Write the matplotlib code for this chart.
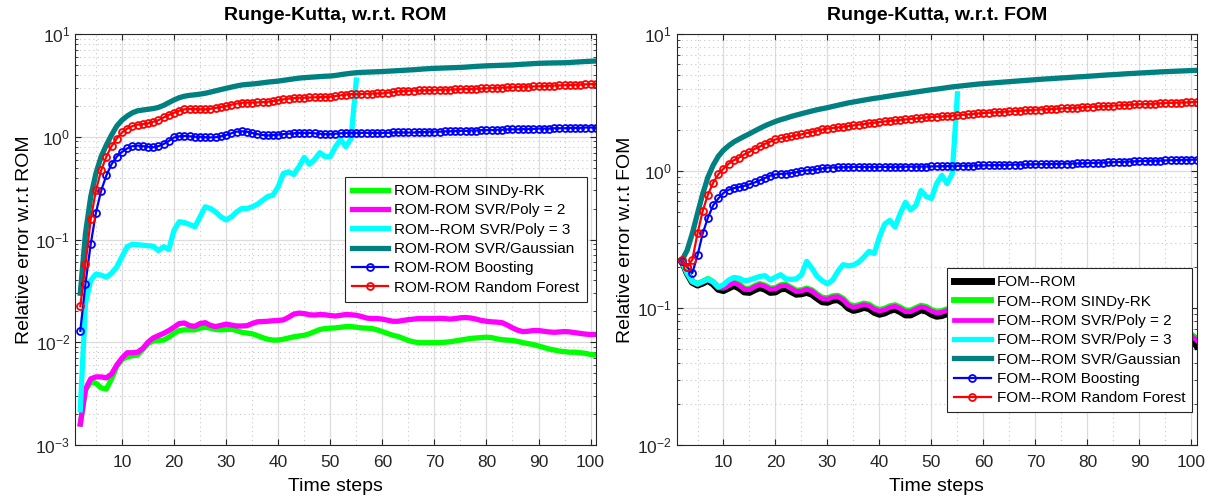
import numpy as np
import matplotlib
matplotlib.use('Agg')
import matplotlib.pyplot as plt
from matplotlib.ticker import LogLocator, NullFormatter, MultipleLocator

plt.rcParams['font.family'] = ['Liberation Sans', 'DejaVu Sans']
plt.rcParams['mathtext.fontset'] = 'custom'
plt.rcParams['mathtext.rm'] = 'Liberation Sans'
plt.rcParams['mathtext.it'] = 'Liberation Sans:italic'

steps = list(range(2, 102))
steps_poly3 = list(range(2, 56))

# ---- left panel: error w.r.t. ROM ----
rom_sindy = [0.0016, 0.0034, 0.0041, 0.0040, 0.0036, 0.0035, 0.0044, 0.0058, 0.0068, 0.0072,
             0.0074, 0.0075, 0.0085, 0.0097, 0.0103, 0.0104, 0.0105, 0.0112, 0.0122, 0.0130,
             0.0132, 0.0132, 0.0132, 0.0137, 0.0140, 0.0137, 0.0133, 0.0132, 0.0133, 0.0134,
             0.0130, 0.0125, 0.0123, 0.0121, 0.0116, 0.0111, 0.0107, 0.0105, 0.0105, 0.0107,
             0.0110, 0.0113, 0.0115, 0.0117, 0.0121, 0.0127, 0.0133, 0.0136, 0.0137, 0.0138,
             0.0140, 0.0142, 0.0142, 0.0140, 0.0138, 0.0137, 0.0136, 0.0132, 0.0127, 0.0122,
             0.0117, 0.0114, 0.0109, 0.0104, 0.0101, 0.0099, 0.0099, 0.0099, 0.0099, 0.0099,
             0.0100, 0.0101, 0.0103, 0.0105, 0.0107, 0.0109, 0.0110, 0.0111, 0.0112, 0.0111,
             0.0108, 0.0106, 0.0105, 0.0104, 0.0102, 0.0099, 0.0097, 0.0095, 0.0092, 0.0089,
             0.0086, 0.0084, 0.0082, 0.0081, 0.0080, 0.0080, 0.0079, 0.0078, 0.0076, 0.0075]
rom_poly2 = [0.0016, 0.0035, 0.0044, 0.0046, 0.0046, 0.0045, 0.0049, 0.0060, 0.0070, 0.0079,
             0.0079, 0.0080, 0.0087, 0.0100, 0.0110, 0.0116, 0.0122, 0.0130, 0.0140, 0.0152,
             0.0154, 0.0145, 0.0143, 0.0152, 0.0155, 0.0146, 0.0142, 0.0146, 0.0150, 0.0147,
             0.0144, 0.0144, 0.0145, 0.0152, 0.0158, 0.0159, 0.0160, 0.0162, 0.0163, 0.0165,
             0.0175, 0.0188, 0.0192, 0.0190, 0.0185, 0.0184, 0.0186, 0.0185, 0.0182, 0.0180,
             0.0183, 0.0186, 0.0185, 0.0183, 0.0178, 0.0172, 0.0170, 0.0170, 0.0168, 0.0164,
             0.0160, 0.0160, 0.0163, 0.0166, 0.0168, 0.0170, 0.0170, 0.0170, 0.0170, 0.0171,
             0.0170, 0.0168, 0.0170, 0.0173, 0.0174, 0.0172, 0.0168, 0.0163, 0.0160, 0.0158,
             0.0157, 0.0155, 0.0147, 0.0138, 0.0131, 0.0127, 0.0128, 0.0130, 0.0130, 0.0128,
             0.0126, 0.0125, 0.0126, 0.0127, 0.0126, 0.0124, 0.0122, 0.0120, 0.0119, 0.0119]
rom_poly3 = [0.0022, 0.024, 0.040, 0.046, 0.045, 0.043, 0.047, 0.054, 0.068, 0.085,
             0.090, 0.089, 0.088, 0.087, 0.086, 0.078, 0.085, 0.080, 0.123, 0.149,
             0.146, 0.140, 0.133, 0.166, 0.208, 0.200, 0.185, 0.166, 0.155, 0.166,
             0.185, 0.200, 0.200, 0.208, 0.220, 0.240, 0.262, 0.270, 0.326, 0.440,
             0.455, 0.430, 0.510, 0.630, 0.540, 0.600, 0.700, 0.640, 0.640, 0.800,
             0.940, 0.800, 0.960, 3.56]
rom_gauss = [0.03, 0.115, 0.26, 0.44, 0.64, 0.83, 1.04, 1.27, 1.45, 1.59,
             1.71, 1.79, 1.82, 1.85, 1.88, 1.93, 2.02, 2.15, 2.28, 2.40,
             2.48, 2.53, 2.56, 2.60, 2.65, 2.72, 2.80, 2.88, 2.96, 3.04,
             3.12, 3.19, 3.23, 3.26, 3.30, 3.35, 3.40, 3.44, 3.48, 3.54,
             3.60, 3.66, 3.72, 3.76, 3.79, 3.82, 3.85, 3.88, 3.90, 3.95,
             4.02, 4.09, 4.15, 4.20, 4.23, 4.25, 4.27, 4.29, 4.31, 4.34,
             4.37, 4.40, 4.43, 4.46, 4.49, 4.53, 4.57, 4.60, 4.63, 4.65,
             4.67, 4.69, 4.71, 4.73, 4.76, 4.80, 4.84, 4.87, 4.90, 4.92,
             4.94, 4.96, 4.98, 5.00, 5.04, 5.08, 5.11, 5.15, 5.18, 5.20,
             5.22, 5.23, 5.24, 5.25, 5.28, 5.32, 5.36, 5.40, 5.43, 5.46]
rom_boost = [0.0129, 0.0373, 0.090, 0.182, 0.298, 0.42, 0.54, 0.64, 0.71, 0.77,
             0.81, 0.82, 0.81, 0.80, 0.79, 0.81, 0.85, 0.91, 0.985, 1.01,
             1.02, 1.01, 1.00, 1.00, 0.99, 0.985, 0.99, 1.01, 1.04, 1.08,
             1.12, 1.13, 1.12, 1.09, 1.06, 1.04, 1.03, 1.04, 1.05, 1.06,
             1.07, 1.08, 1.09, 1.09, 1.09, 1.08, 1.07, 1.06, 1.06, 1.07,
             1.08, 1.09, 1.09, 1.09, 1.09, 1.09, 1.09, 1.09, 1.09, 1.09,
             1.10, 1.10, 1.10, 1.10, 1.10, 1.11, 1.11, 1.12, 1.12, 1.12,
             1.13, 1.13, 1.14, 1.14, 1.14, 1.15, 1.15, 1.16, 1.16, 1.16,
             1.17, 1.17, 1.18, 1.18, 1.18, 1.19, 1.19, 1.19, 1.20, 1.20,
             1.20, 1.21, 1.21, 1.21, 1.22, 1.22, 1.22, 1.23, 1.23, 1.23]
rom_forest = [0.0224, 0.0575, 0.157, 0.30, 0.47, 0.64, 0.81, 0.96, 1.10, 1.20,
              1.27, 1.31, 1.33, 1.35, 1.40, 1.45, 1.54, 1.63, 1.71, 1.79,
              1.85, 1.86, 1.86, 1.85, 1.85, 1.87, 1.91, 1.95, 1.99, 2.05,
              2.10, 2.14, 2.15, 2.15, 2.16, 2.17, 2.19, 2.23, 2.27, 2.31,
              2.35, 2.38, 2.40, 2.40, 2.41, 2.42, 2.43, 2.44, 2.45, 2.49,
              2.53, 2.57, 2.60, 2.60, 2.61, 2.62, 2.63, 2.64, 2.64, 2.68,
              2.72, 2.76, 2.79, 2.80, 2.81, 2.82, 2.83, 2.84, 2.85, 2.86,
              2.87, 2.88, 2.89, 2.90, 2.91, 2.92, 2.94, 2.95, 2.96, 2.98,
              3.00, 3.01, 3.02, 3.03, 3.05, 3.07, 3.08, 3.09, 3.10, 3.12,
              3.14, 3.15, 3.16, 3.17, 3.19, 3.21, 3.22, 3.24, 3.25, 3.26]

# ---- right panel: error w.r.t. FOM ----
fom_rom = [0.222, 0.180, 0.154, 0.147, 0.152, 0.159, 0.150, 0.137, 0.134, 0.140,
           0.146, 0.140, 0.131, 0.130, 0.136, 0.141, 0.137, 0.130, 0.131, 0.138,
           0.139, 0.132, 0.126, 0.127, 0.130, 0.126, 0.118, 0.111, 0.110, 0.114,
           0.115, 0.109, 0.100, 0.096, 0.098, 0.101, 0.099, 0.093, 0.090, 0.092,
           0.096, 0.098, 0.094, 0.089, 0.089, 0.093, 0.097, 0.095, 0.090, 0.087,
           0.088, 0.091, 0.093, 0.090, 0.086, 0.084, 0.086, 0.088, 0.086, 0.082,
           0.080, 0.081, 0.083, 0.082, 0.078, 0.076, 0.077, 0.079, 0.078, 0.074,
           0.072, 0.073, 0.075, 0.074, 0.070, 0.069, 0.070, 0.072, 0.071, 0.068,
           0.066, 0.067, 0.069, 0.068, 0.065, 0.063, 0.064, 0.066, 0.065, 0.062,
           0.061, 0.062, 0.064, 0.063, 0.060, 0.059, 0.060, 0.062, 0.060, 0.053]
fom_sindy = [0.222, 0.180, 0.156, 0.150, 0.156, 0.163, 0.155, 0.142, 0.141, 0.148,
             0.155, 0.149, 0.139, 0.138, 0.145, 0.150, 0.146, 0.139, 0.140, 0.147,
             0.148, 0.141, 0.134, 0.135, 0.139, 0.135, 0.126, 0.119, 0.118, 0.122,
             0.123, 0.117, 0.107, 0.103, 0.105, 0.108, 0.106, 0.100, 0.097, 0.099,
             0.103, 0.105, 0.101, 0.096, 0.096, 0.100, 0.104, 0.102, 0.097, 0.094,
             0.095, 0.098, 0.100, 0.097, 0.093, 0.091, 0.093, 0.095, 0.093, 0.089,
             0.086, 0.087, 0.089, 0.088, 0.084, 0.082, 0.083, 0.085, 0.084, 0.080,
             0.078, 0.079, 0.081, 0.080, 0.076, 0.075, 0.076, 0.078, 0.077, 0.074,
             0.072, 0.073, 0.075, 0.074, 0.071, 0.069, 0.070, 0.072, 0.071, 0.068,
             0.067, 0.068, 0.070, 0.069, 0.066, 0.065, 0.066, 0.066, 0.064, 0.060]
fom_poly2 = [0.222, 0.180, 0.155, 0.149, 0.155, 0.162, 0.154, 0.141, 0.140, 0.146,
             0.153, 0.147, 0.137, 0.136, 0.143, 0.148, 0.144, 0.137, 0.138, 0.145,
             0.146, 0.139, 0.132, 0.133, 0.137, 0.133, 0.124, 0.117, 0.116, 0.120,
             0.121, 0.115, 0.105, 0.101, 0.103, 0.106, 0.104, 0.098, 0.095, 0.097,
             0.101, 0.103, 0.099, 0.094, 0.094, 0.098, 0.102, 0.100, 0.095, 0.092,
             0.093, 0.096, 0.098, 0.095, 0.091, 0.089, 0.091, 0.093, 0.091, 0.087,
             0.085, 0.086, 0.088, 0.087, 0.083, 0.081, 0.082, 0.084, 0.083, 0.079,
             0.077, 0.078, 0.080, 0.079, 0.075, 0.074, 0.075, 0.077, 0.076, 0.073,
             0.071, 0.072, 0.074, 0.073, 0.070, 0.068, 0.069, 0.071, 0.070, 0.067,
             0.066, 0.067, 0.069, 0.068, 0.065, 0.064, 0.065, 0.065, 0.063, 0.058]
fom_poly3 = [0.222, 0.180, 0.156, 0.150, 0.156, 0.162, 0.155, 0.142, 0.148, 0.160,
             0.167, 0.165, 0.158, 0.160, 0.165, 0.170, 0.172, 0.160, 0.168, 0.175,
             0.163, 0.162, 0.163, 0.175, 0.219, 0.195, 0.170, 0.158, 0.150, 0.160,
             0.185, 0.207, 0.203, 0.206, 0.216, 0.235, 0.259, 0.250, 0.330, 0.410,
             0.436, 0.390, 0.490, 0.590, 0.520, 0.560, 0.720, 0.650, 0.630, 0.810,
             0.930, 0.810, 0.955, 3.66]
fom_gauss = [0.223, 0.263, 0.35, 0.49, 0.68, 0.90, 1.10, 1.28, 1.42, 1.53,
             1.63, 1.71, 1.79, 1.87, 1.96, 2.05, 2.14, 2.22, 2.30, 2.37,
             2.43, 2.50, 2.56, 2.62, 2.68, 2.74, 2.80, 2.85, 2.90, 2.96,
             3.02, 3.08, 3.14, 3.19, 3.24, 3.29, 3.34, 3.39, 3.43, 3.48,
             3.53, 3.58, 3.63, 3.67, 3.72, 3.77, 3.82, 3.87, 3.92, 3.96,
             4.01, 4.06, 4.11, 4.15, 4.19, 4.23, 4.27, 4.31, 4.34, 4.37,
             4.40, 4.43, 4.46, 4.49, 4.52, 4.55, 4.58, 4.61, 4.64, 4.67,
             4.70, 4.72, 4.75, 4.78, 4.80, 4.83, 4.86, 4.88, 4.91, 4.94,
             4.97, 5.00, 5.03, 5.05, 5.08, 5.11, 5.14, 5.16, 5.19, 5.21,
             5.24, 5.26, 5.29, 5.31, 5.33, 5.35, 5.37, 5.39, 5.41, 5.43]
fom_boost = [0.222, 0.200, 0.180, 0.242, 0.350, 0.456, 0.560, 0.630, 0.690, 0.730,
             0.750, 0.764, 0.780, 0.800, 0.825, 0.855, 0.890, 0.925, 0.945, 0.952,
             0.958, 0.965, 0.980, 1.000, 1.010, 1.020, 1.030, 1.045, 1.057, 1.060,
             1.062, 1.065, 1.068, 1.070, 1.070, 1.070, 1.070, 1.070, 1.070, 1.071,
             1.072, 1.072, 1.073, 1.074, 1.075, 1.076, 1.077, 1.078, 1.080, 1.082,
             1.084, 1.086, 1.088, 1.090, 1.092, 1.094, 1.096, 1.098, 1.100, 1.102,
             1.104, 1.106, 1.108, 1.110, 1.112, 1.114, 1.116, 1.118, 1.120, 1.122,
             1.124, 1.126, 1.128, 1.130, 1.132, 1.134, 1.136, 1.138, 1.140, 1.144,
             1.148, 1.152, 1.156, 1.160, 1.164, 1.168, 1.172, 1.176, 1.180, 1.183,
             1.186, 1.189, 1.192, 1.195, 1.198, 1.201, 1.204, 1.207, 1.209, 1.210]
fom_forest = [0.225, 0.200, 0.225, 0.35, 0.51, 0.67, 0.82, 0.945, 1.04, 1.13,
              1.20, 1.25, 1.32, 1.38, 1.45, 1.51, 1.58, 1.64, 1.70, 1.73,
              1.76, 1.79, 1.82, 1.85, 1.89, 1.93, 1.97, 2.01, 2.04, 2.06,
              2.08, 2.10, 2.13, 2.15, 2.18, 2.20, 2.23, 2.25, 2.28, 2.30,
              2.32, 2.34, 2.36, 2.38, 2.40, 2.42, 2.44, 2.46, 2.48, 2.49,
              2.50, 2.52, 2.53, 2.55, 2.57, 2.59, 2.61, 2.63, 2.65, 2.66,
              2.68, 2.69, 2.71, 2.72, 2.74, 2.75, 2.77, 2.78, 2.80, 2.81,
              2.82, 2.84, 2.85, 2.86, 2.88, 2.89, 2.90, 2.92, 2.93, 2.94,
              2.96, 2.97, 2.98, 3.00, 3.01, 3.03, 3.04, 3.06, 3.07, 3.08,
              3.09, 3.10, 3.12, 3.13, 3.14, 3.15, 3.16, 3.17, 3.18, 3.19]

TEAL = '#008080'
thick = 3.8
mk = dict(marker='o', markersize=5, markerfacecolor='none', markeredgewidth=1.3, linewidth=1.6)


def style_axes(ax, ylim, title, ylabel):
    ax.set_yscale('log')
    ax.set_xlim(1, 101)
    ax.set_ylim(*ylim)
    ax.xaxis.set_major_locator(MultipleLocator(10))
    ax.yaxis.set_major_locator(LogLocator(base=10, numticks=10))
    ax.yaxis.set_minor_locator(LogLocator(base=10, subs=np.arange(2, 10), numticks=10))
    ax.yaxis.set_minor_formatter(NullFormatter())
    ax.xaxis.set_minor_locator(MultipleLocator(5))
    ax.grid(True, which='major', color='#dcdcdc', linewidth=0.9)
    ax.grid(True, which='minor', color='#c8c8c8', linestyle=(0, (1, 3)), linewidth=0.8)
    ax.set_axisbelow(True)
    ax.tick_params(which='both', direction='in', top=True, right=True, labelsize=12.5, colors='#262626')
    ax.tick_params(which='major', length=4)
    ax.tick_params(which='minor', length=2)
    ax.tick_params(axis='x', which='minor', length=0)
    ax.tick_params(axis='x', which='major', pad=7)
    for s in ax.spines.values():
        s.set_color('#262626')
        s.set_linewidth(0.8)
    ax.set_title(title, fontsize=14, fontweight='bold', pad=10)
    ax.set_xlabel('Time steps', fontsize=14, labelpad=6)
    ax.set_ylabel(ylabel, fontsize=14, labelpad=2)


fig = plt.figure(figsize=(12.11, 5.0), dpi=100)
ax1 = fig.add_axes([0.062, 0.11, 0.430, 0.822])
ax2 = fig.add_axes([0.5588, 0.11, 0.4293, 0.822])

leg_kw = dict(fontsize=11, handlelength=2.4, labelspacing=0.35, borderpad=0.45,
              handletextpad=0.4, borderaxespad=0, fancybox=False, framealpha=1)

ax1.plot(steps, rom_sindy, color='#00ff00', linewidth=thick, label='ROM-ROM SINDy-RK')
ax1.plot(steps, rom_poly2, color='#ff00ff', linewidth=thick, label='ROM-ROM SVR/Poly = 2')
ax1.plot(steps_poly3, rom_poly3, color='#00ffff', linewidth=thick, label='ROM--ROM SVR/Poly = 3')
ax1.plot(steps, rom_gauss, color=TEAL, linewidth=thick, label='ROM-ROM SVR/Gaussian')
ax1.plot(steps, rom_boost, color='#0000ff', label='ROM-ROM Boosting', **mk)
ax1.plot(steps, rom_forest, color='#ff0000', label='ROM-ROM Random Forest', **mk)
style_axes(ax1, (1e-3, 1e1), 'Runge-Kutta, w.r.t. ROM', 'Relative error w.r.t ROM')
leg1 = ax1.legend(loc='upper left', bbox_to_anchor=(0.518, 0.652), **leg_kw)
leg1.get_frame().set_edgecolor('#262626')
leg1.get_frame().set_linewidth(0.8)

ax2.plot(steps, fom_rom, color='black', linewidth=5.0, label='FOM--ROM')
ax2.plot(steps, fom_sindy, color='#00ff00', linewidth=4.2, label='FOM--ROM SINDy-RK')
ax2.plot(steps, fom_poly2, color='#ff00ff', linewidth=3.4, label='FOM--ROM SVR/Poly = 2')
ax2.plot(steps_poly3, fom_poly3, color='#00ffff', linewidth=thick, label='FOM--ROM SVR/Poly = 3')
ax2.plot(steps, fom_gauss, color=TEAL, linewidth=thick, label='FOM--ROM SVR/Gaussian')
ax2.plot(steps, fom_boost, color='#0000ff', label='FOM--ROM Boosting', **mk)
ax2.plot(steps, fom_forest, color='#ff0000', label='FOM--ROM Random Forest', **mk)
style_axes(ax2, (1e-2, 1e1), 'Runge-Kutta, w.r.t. FOM', 'Relative error w.r.t FOM')
leg2 = ax2.legend(loc='lower left', bbox_to_anchor=(0.52, 0.08), **leg_kw)
leg2.get_frame().set_edgecolor('#262626')
leg2.get_frame().set_linewidth(0.8)

fig.savefig('out.png', dpi=100)
